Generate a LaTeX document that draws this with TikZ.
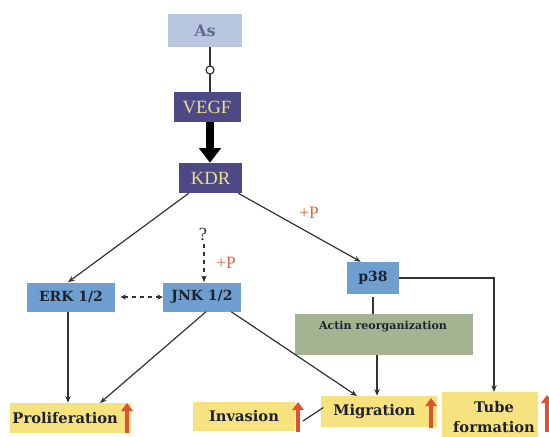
\documentclass[tikz,border=0pt]{standalone}
\usepackage{fontspec}
\setmainfont{Liberation Serif}
\newfontfamily\lsr{Liberation Serif}
\newfontfamily\dvs{DejaVu Serif}
\usetikzlibrary{arrows.meta}
\definecolor{asbox}{HTML}{B8C7DF}
\definecolor{astext}{HTML}{66698F}
\definecolor{darkbox}{HTML}{4D4985}
\definecolor{paleyel}{HTML}{ECDD92}
\definecolor{bluebox}{HTML}{6E9FCE}
\definecolor{darktext}{HTML}{1E2230}
\definecolor{actin}{HTML}{A6B393}
\definecolor{yelbox}{HTML}{F7E280}
\definecolor{redup}{HTML}{DE5230}
\definecolor{ptext}{HTML}{E8603C}
\definecolor{linec}{HTML}{333333}
\tikzset{
  box/.style={inner sep=0pt, align=center},
  asbx/.style={box, fill=asbox, text=astext, font=\dvs\fontsize{12}{14}\selectfont\bfseries},
  dbx/.style={box, fill=darkbox, text=paleyel, font=\lsr\fontsize{14}{15}\selectfont},
  bbx/.style={box, fill=bluebox, text=darktext, font=\dvs\fontsize{10.5}{13}\selectfont\bfseries},
  abx/.style={box, fill=actin, text=darktext, font=\dvs\fontsize{8.3}{10}\selectfont\bfseries},
  ybx/.style={box, fill=yelbox, text=darktext, font=\dvs\fontsize{11}{13}\selectfont\bfseries},
  conn/.style={draw=linec, line width=0.9pt, -{Stealth[length=5pt,width=4pt]}},
  plain/.style={draw=linec, line width=0.9pt},
  redarr/.style={draw=redup, line width=3pt, -{Triangle[length=6pt,width=8.5pt]}},
  plabel/.style={text=ptext, font=\lsr\fontsize{13}{14}\selectfont},
}
\begin{document}
\begin{tikzpicture}[x=0.75pt,y=-0.75pt]
\useasboundingbox (0,0) rectangle (549,436);
\begin{scope}
\clip (0,0) rectangle (549,436);
% nodes
\node[asbx, minimum width=55.5pt, minimum height=24.75pt] (as) at (205,30.5) {As};
\node[dbx, minimum width=50.25pt, minimum height=22.5pt] (vegf) at (207,107) {VEGF};
\node[dbx, minimum width=47.25pt, minimum height=22.5pt] (kdr) at (210.5,178) {KDR};
\node[bbx, minimum width=66pt, minimum height=21.75pt] (erk) at (71,297) {ERK 1/2};
\node[bbx, minimum width=58.5pt, minimum height=21.75pt] (jnk) at (202,297) {JNK 1/2};
\node[bbx, minimum width=39pt, minimum height=24pt] (p38) at (373,278) {p38};
\node[abx, minimum width=133.5pt, minimum height=30.75pt] (actin) at (384,334.5) {};
\node[abx] (actintext) at (383,327) {Actin reorganization};
\node[ybx, minimum width=90.75pt, minimum height=22.5pt] (prolif) at (70.5,418) {Proliferation\hspace{8pt}};
\node[ybx, minimum width=76.5pt, minimum height=21.75pt] (inv) at (244,416.5) {Invasion};
\node[ybx, minimum width=87pt, minimum height=23.25pt] (mig) at (379,411.5) {Migration\hspace{7pt}};
\node[ybx, minimum width=72pt, minimum height=43.5pt, anchor=north west] (tube) at (442,392) {};
\node[ybx, font=\dvs\fontsize{11}{15}\selectfont\bfseries] (tubetext) at (494,417.5) {Tube\\formation};
\node[font=\lsr\fontsize{14}{15}\selectfont, text=linec] (q) at (203,234) {?};
\node[plabel] (p1) at (309,213) {+P};
\node[plabel] (p2) at (226,263) {+P};
% connectors
\draw[plain] (as.south -| 210,0) -- (vegf.north -| 210,0);
\draw[linec, line width=0.9pt, fill=white] (210,70) circle (4);
\draw[black, line width=6pt, -{Triangle[length=11pt,width=16pt]}] (vegf.south -| 210,0) -- (kdr.north -| 210,0);
\draw[conn] ([xshift=7.5pt]kdr.south west) -- (erk.north -| 68,0);
\draw[conn] ([xshift=-3pt]kdr.south east) -- ([xshift=10.5pt]p38.north west);
\draw[conn, dashed] (204,244) coordinate (qd) -- (jnk.north -| 204,0);
\draw[draw=linec, line width=0.9pt, dashed, {Stealth[length=4pt,width=4pt]}-{Stealth[length=4pt,width=4pt]}] ([xshift=4pt]erk.east) -- (jnk.west);
\draw[conn] (erk.south -| 68,0) -- (prolif.north -| 68,0);
\draw[conn] ([xshift=3pt]jnk.south) -- (100,403);
\draw[conn] ([xshift=22pt]jnk.south) -- (357,396);
\draw[plain] ([yshift=-2pt]p38.south) -- (actin.north -| p38.south);
\draw[conn] (actin.south -| 377,0) -- (mig.north -| 377,0);
\draw[conn] (p38.east) -- (494,278) -- (tube.north -| 494,0);
% red up arrows
\draw[redarr] (127,433) -- (127,403);
\draw[redarr] (298,432) -- (298,402);
\draw[redarr] (431,428) -- (431,398);
\draw[redarr] (547,432) -- (547,395);
\draw[plain] ([shift={(2pt,3pt)}]mig.west) -- (303,421);
\end{scope}
\end{tikzpicture}
\end{document}
